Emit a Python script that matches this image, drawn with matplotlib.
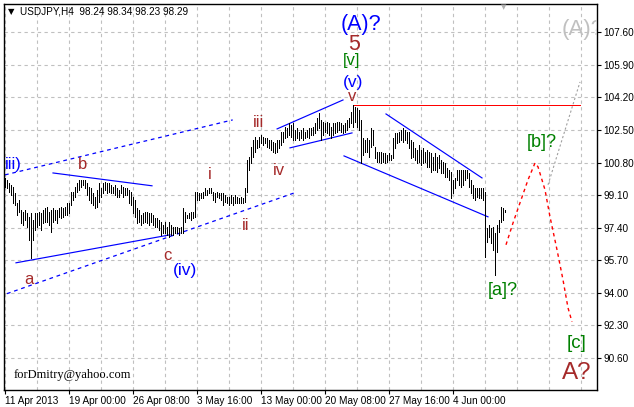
import matplotlib
matplotlib.use("Agg")
import matplotlib.pyplot as plt
import numpy as np

# USDJPY H4 bars (high / low)
highs = [100.00, 99.90, 99.74, 99.64, 99.53, 99.22, 98.70, 98.86, 98.33, 98.23,
         98.33, 98.18, 97.97, 98.18, 97.81, 98.18, 98.18, 98.23, 98.18, 98.33,
         98.44, 98.49, 98.23, 98.33, 98.44, 98.33, 98.33, 98.44, 98.49, 98.44,
         98.49, 98.70, 98.70, 99.27, 99.27, 99.53, 99.74, 99.90, 99.90, 99.90,
         99.90, 99.74, 99.53, 99.48, 99.22, 99.01, 99.38, 99.74, 99.48, 99.74,
         99.79, 99.74, 99.74, 99.64, 99.53, 99.64, 99.48, 99.38, 99.64, 99.53,
         99.48, 99.48, 99.38, 99.27, 99.01, 98.86, 98.44, 98.33, 98.07, 98.18,
         98.23, 98.23, 98.18, 98.18, 98.07, 97.92, 97.92, 97.81, 97.71, 97.55,
         97.71, 97.45, 97.71, 97.55, 97.45, 97.45, 97.45, 97.40, 97.45, 98.44,
         98.23, 98.07, 98.18, 98.23, 98.23, 99.27, 99.27, 99.22, 99.22, 99.27,
         99.48, 99.38, 99.48, 99.48, 99.27, 99.22, 99.27, 99.22, 99.22, 99.22,
         99.12, 99.01, 99.01, 99.12, 99.01, 99.12, 99.01, 98.96, 99.01, 98.96,
         99.48, 100.94, 101.10, 101.62, 101.98, 102.14, 101.98, 102.14, 102.25, 102.14,
         102.09, 102.09, 101.98, 101.98, 101.88, 101.83, 101.98, 101.98, 102.40, 102.40,
         102.66, 102.61, 102.87, 102.77, 102.87, 102.51, 102.61, 102.40, 102.51, 102.61,
         102.40, 102.51, 102.61, 102.61, 102.66, 102.87, 103.13, 103.39, 103.03, 102.92,
         102.87, 102.92, 102.87, 102.66, 102.87, 102.87, 102.92, 102.92, 102.87, 102.77,
         102.87, 103.03, 103.13, 103.44, 103.81, 103.70, 103.65, 103.55, 103.03, 102.09,
         101.98, 102.09, 101.98, 102.61, 102.51, 101.62, 101.36, 101.36, 101.36, 101.31,
         101.31, 101.20, 101.31, 101.20, 102.09, 102.35, 102.35, 102.40, 102.51, 102.61,
         102.51, 102.40, 102.40, 101.98, 101.88, 101.57, 101.46, 101.72, 101.46, 101.57,
         101.36, 101.46, 101.36, 101.31, 101.10, 101.31, 101.10, 101.20, 100.94, 100.84,
         100.78, 100.52, 100.42, 100.32, 99.90, 100.00, 100.42, 100.42, 100.42, 100.42,
         100.42, 100.42, 100.26, 99.90, 99.64, 99.48, 99.48, 99.48, 99.48, 99.48,
         99.27, 97.40, 97.55, 97.40, 97.45, 97.13, 97.55, 97.81, 98.49, 98.44, 98.34]

lows = [99.53, 99.48, 99.27, 99.12, 98.70, 98.59, 98.07, 98.23, 97.66, 97.55,
        97.81, 97.45, 96.77, 95.83, 96.77, 97.29, 97.45, 97.55, 97.29, 97.66,
        97.71, 97.71, 97.55, 97.19, 97.71, 97.81, 97.66, 97.97, 97.92, 97.97,
        98.07, 98.07, 98.18, 98.59, 98.86, 99.01, 99.27, 99.38, 99.53, 99.64,
        99.48, 99.12, 98.86, 98.70, 98.59, 98.44, 98.49, 98.75, 99.01, 99.22,
        99.38, 99.22, 99.27, 99.22, 99.22, 99.12, 99.01, 99.01, 99.22, 99.01,
        99.12, 99.12, 98.70, 98.59, 98.18, 97.97, 97.66, 97.71, 97.55, 97.66,
        97.71, 97.66, 97.55, 97.71, 97.55, 97.45, 97.45, 97.29, 97.03, 97.13,
        97.13, 97.03, 96.93, 97.03, 97.03, 97.13, 97.13, 97.03, 97.13, 97.13,
        97.71, 97.92, 97.92, 97.81, 97.92, 97.97, 98.86, 98.86, 98.96, 98.96,
        99.12, 99.12, 99.22, 99.22, 98.86, 98.75, 99.01, 98.96, 98.86, 98.59,
        98.75, 98.70, 98.59, 98.70, 98.59, 98.70, 98.70, 98.70, 98.70, 98.70,
        98.75, 99.27, 100.42, 100.78, 101.10, 101.36, 101.57, 101.62, 101.83, 101.72,
        101.83, 101.62, 101.57, 101.46, 101.36, 101.31, 101.36, 101.57, 101.72, 101.88,
        102.09, 102.14, 102.25, 102.14, 101.98, 101.98, 102.09, 101.98, 102.09, 101.98,
        102.09, 102.14, 102.09, 102.25, 102.25, 102.35, 102.51, 102.61, 101.98, 102.25,
        102.40, 102.35, 102.25, 102.09, 102.25, 102.35, 102.40, 102.51, 102.40, 102.35,
        102.40, 102.51, 102.66, 102.87, 102.66, 102.92, 102.66, 102.51, 100.78, 101.20,
        101.36, 101.36, 101.10, 101.62, 101.72, 101.05, 100.84, 100.84, 100.78, 100.84,
        100.78, 100.84, 100.94, 100.94, 101.05, 101.57, 101.83, 101.88, 101.98, 101.88,
        101.98, 101.83, 101.57, 101.05, 101.10, 100.94, 100.78, 100.84, 100.68, 100.78,
        100.84, 100.58, 100.58, 100.32, 100.42, 100.42, 100.32, 100.52, 100.26, 100.26,
        100.06, 100.06, 99.90, 98.96, 99.22, 99.48, 99.90, 99.64, 99.53, 99.64,
        99.90, 100.00, 99.53, 99.22, 98.96, 98.86, 99.01, 98.96, 98.96, 98.86,
        95.88, 96.67, 96.93, 96.61, 96.25, 94.95, 96.15, 97.19, 97.71, 97.81, 98.23]

# date labels every 32 bars
date_pos = [0, 32, 64, 96, 128, 160, 192, 224]
date_labels = ["11 Apr 2013", "19 Apr 00:00", "26 Apr 08:00", "3 May 16:00",
               "13 May 00:00", "20 May 08:00", "27 May 16:00", "4 Jun 00:00"]
price_ticks = [90.60, 92.30, 94.00, 95.70, 97.40, 99.10, 100.80, 102.50, 104.20, 105.90, 107.60]

# trend lines (bar index, price)
solid_lines = [((5.65, 95.57), (82.65, 97.03)),
               ((24.15, 100.26), (73.65, 99.59)),
               ((136.2, 102.56), (169.15, 104.07)),
               ((142.65, 101.57), (173.65, 102.35)),
               ((190.65, 103.34), (238.65, 100.00)),
               ((169.65, 101.15), (241.65, 97.97))]
dotted_lines = [((0.15, 100.16), (114.0, 103.03)),
                ((1.15, 93.96), (146.2, 99.27))]
top_level = 103.80
proj_x = [250.65, 254.15, 257.65, 261.65, 265.15, 266.65, 270.15, 272.65, 276.15, 279.15, 281.65, 283.65]
proj_y = [96.51, 97.65, 98.70, 99.90, 100.78, 100.58, 99.38, 97.97, 96.25, 94.68, 93.22, 92.49]
alt_x = [271.65, 287.65]
alt_y = [99.64, 105.01]

brown = "#a52a2a"
blue = "#0000ff"
green = "#008000"
labels = [
    ("iii)", 0.3, 100.68, blue, 12, "left"),
    ("b", 39.15, 100.68, brown, 12, "center"),
    ("a", 12.15, 94.68, brown, 12, "center"),
    ("c", 81.15, 95.94, brown, 12, "center"),
    ("(iv)", 90.15, 95.15, blue, 12.5, "center"),
    ("i", 102.65, 100.16, brown, 12, "center"),
    ("ii", 120.65, 97.50, brown, 12, "center"),
    ("iii", 126.65, 102.92, brown, 12, "center"),
    ("iv", 137.15, 100.37, brown, 12, "center"),
    ("v", 173.65, 104.23, brown, 12, "center"),
    ("(v)", 174.15, 104.96, blue, 12.5, "center"),
    ("[v]", 173.65, 106.12, green, 12, "center"),
    ("5", 174.65, 106.97, brown, 15.5, "center"),
    ("(A)?", 178.15, 108.02, blue, 15.5, "center"),
    ("(A)?", 278.65, 107.77, "#c0c0c0", 16, "left"),
    ("[b]?", 268.65, 101.83, green, 13, "center"),
    ("[a]?", 249.15, 94.11, green, 13, "center"),
    ("[c]", 286.15, 91.35, green, 13.5, "center"),
    ("A?", 286.15, 89.84, brown, 17.5, "center"),
]

fig = plt.figure(figsize=(6.34, 4.07), dpi=100)
ax = fig.add_axes([4 / 634, 17 / 407, 593 / 634, 386 / 407])
ax.set_xlim(-0.35, 296.15)
ax.set_ylim(88.93, 109.08)

# grid like the terminal: every 16 bars and at each price tick
for gx in range(0, 297, 16):
    ax.axvline(gx, color="#c0c0c0", lw=0.8, ls=(0, (3, 3)), zorder=0)
for gy in price_ticks:
    ax.axhline(gy, color="#c0c0c0", lw=0.8, ls=(0, (3, 3)), zorder=0)

idx = np.arange(len(highs))
ax.vlines(idx, lows, highs, color="black", lw=0.5, antialiased=False, zorder=3)

for (x0, y0), (x1, y1) in solid_lines:
    ax.plot([x0, x1], [y0, y1], color=blue, lw=0.85, zorder=2)
for (x0, y0), (x1, y1) in dotted_lines:
    ax.plot([x0, x1], [y0, y1], color=blue, lw=0.9, ls=(0, (3, 3)), zorder=2)
ax.plot([174, 287.65], [top_level, top_level], color="red", lw=0.5,
        antialiased=False, zorder=2)
ax.plot(proj_x, proj_y, color="red", lw=1.0, ls=(0, (2.5, 2.5)), zorder=2)
ax.plot(alt_x, alt_y, color="#a0a0a0", lw=0.8, ls=(0, (2, 2)), zorder=2)

for txt, x, y, col, size, ha in labels:
    ax.text(x, y, txt, color=col, fontsize=size, ha=ha, va="center",
            family="Liberation Sans", clip_on=True, zorder=4)

ax.text(4.65, 89.73, "forDmitry@yahoo.com", fontsize=9, family="Liberation Serif",
        ha="left", va="center", color="black")

ax.set_xticks(date_pos)
ax.set_xticklabels(date_labels)
ax.set_yticks(price_ticks)
ax.set_yticklabels(["%.2f" % p for p in price_ticks])
ax.yaxis.tick_right()
ax.tick_params(axis="both", direction="out", length=3, width=0.8, labelsize=7.2, pad=1.5)
for lab in ax.get_xticklabels():
    lab.set_horizontalalignment("left")
    lab.set_family("Liberation Sans")
for lab in ax.get_yticklabels():
    lab.set_family("Liberation Sans")
for sp in ax.spines.values():
    sp.set_linewidth(1.0)
    sp.set_color("black")

fig.text(8 / 634, 1 - 12 / 407, "\u25bc", fontsize=6, va="center", ha="left", family="DejaVu Sans")
fig.text(20 / 634, 1 - 12 / 407, "USDJPY,H4  98.24 98.34 98.23 98.29", fontsize=7.2,
         va="center", ha="left", family="Liberation Sans")
# chart shift marker
fig.text(504 / 634, 1 - 7 / 407, "\u25bc", fontsize=5, color="#b0b0b0", va="center", ha="center",
         family="DejaVu Sans")

fig.savefig("out.png", dpi=100)
